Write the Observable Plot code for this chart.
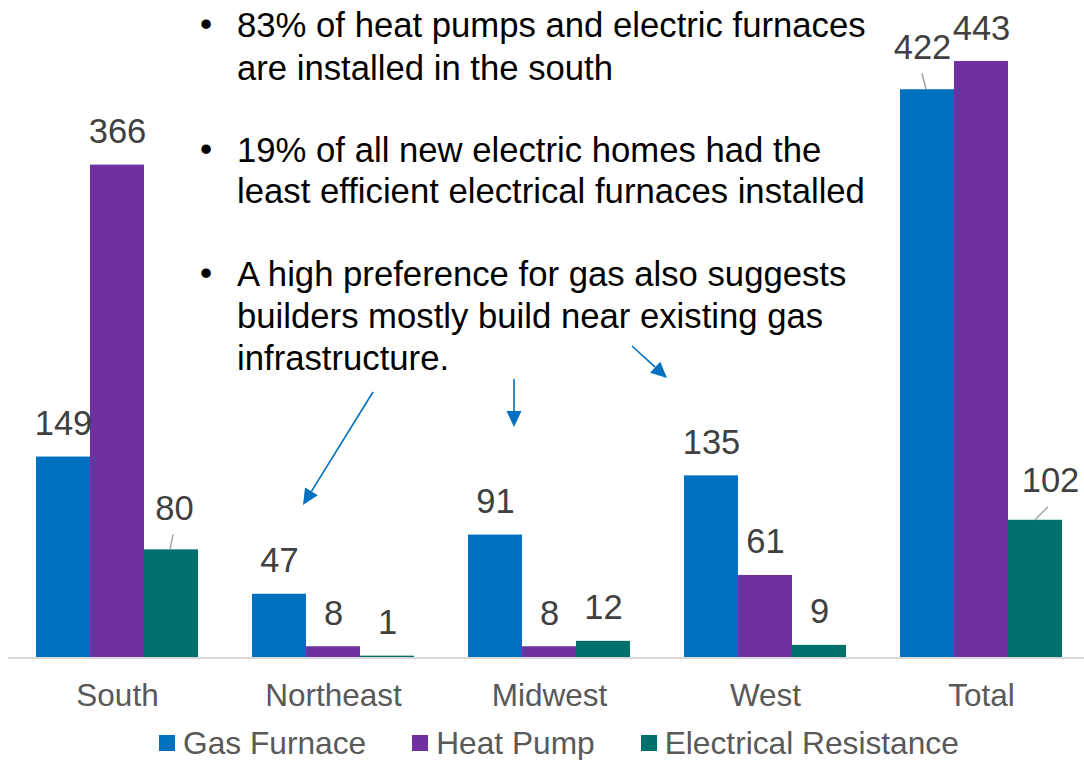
<!DOCTYPE html>
<html><head><meta charset="utf-8">
<script src="https://cdn.jsdelivr.net/npm/d3@7"></script>
<script src="https://cdn.jsdelivr.net/npm/@observablehq/plot@0.6"></script>
<style>
body{margin:0;background:#fff;font-family:"Liberation Sans",Arial,sans-serif;overflow:hidden;}
#wrap{position:relative;width:1084px;}
#legend{display:flex;align-items:center;height:36px;padding-left:159px;font-size:31.7px;line-height:0.9;color:#595959;}
.item{display:flex;align-items:center;margin-right:46px;white-space:nowrap}
.sw{width:16px;height:16px;margin-right:8px;flex:none}
</style></head><body>
<div id="wrap"></div>
<div id="legend"></div>
<script>
const regions = ["South", "Northeast", "Midwest", "West", "Total"];
const seriesNames = ["Gas Furnace", "Heat Pump", "Electrical Resistance"];
const gasFurnace = [149, 47, 91, 135, 422];
const heatPump = [366, 8, 8, 61, 443];
const electricalResistance = [80, 1, 12, 9, 102];
const seriesColors = ["#0070C0", "#7030A0", "#00706E"];
const notes = [
  ["83% of heat pumps and electric furnaces", "are installed in the south"],
  ["19% of all new electric homes had the", "least efficient electrical furnaces installed"],
  ["A high preference for gas also suggests", "builders mostly build near existing gas", "infrastructure."]
];

const seriesValues = [gasFurnace, heatPump, electricalResistance];
const table = regions.flatMap((r, i) => seriesNames.map((s, j) => ({region: r, series: s, value: seriesValues[j][i]})));
const isMoved = d => (d.region === "Total" && d.series !== "Heat Pump") || (d.region === "South" && d.series === "Electrical Resistance");
const pick = (r, s) => table.filter(d => d.region === r && d.series === s);
const labelOpts = {fx: "region", x: "series", y: "value", text: d => String(d.value), fontSize: 34.5, fill: "#404040"};

const chart = Plot.plot({
  width: 1084, height: 725,
  marginTop: 61, marginBottom: 68, marginLeft: 8, marginRight: -5,
  style: {fontFamily: "'Liberation Sans', Arial, sans-serif", fontSize: "31.5px", color: "#595959", background: "white", overflow: "visible"},
  fx: {domain: regions, paddingInner: 0.25, paddingOuter: 0.125, axis: "bottom", label: null, tickSize: 0, tickPadding: 26},
  x: {domain: seriesNames, axis: null, padding: 0},
  y: {domain: [0, 443], axis: null},
  color: {domain: seriesNames, range: seriesColors},
  marks: [
    Plot.barY(table, {fx: "region", x: "series", y: "value", fill: "series"}),
    Plot.text(table.filter(d => !isMoved(d)), {...labelOpts, dy: -33}),
    Plot.text(pick("Total", "Gas Furnace"), {...labelOpts, dx: -5, dy: -42}),
    Plot.text(pick("South", "Electrical Resistance"), {...labelOpts, dx: 3, dy: -41}),
    Plot.text(pick("Total", "Electrical Resistance"), {...labelOpts, dx: 15, dy: -39})
  ]
});
document.getElementById("wrap").appendChild(chart);

// overlay: axis line, leader lines, annotation text and arrows
const svg = d3.select(chart);
const yS = chart.scale("y"), fxS = chart.scale("fx"), xS = chart.scale("x");
const base = yS.apply(0);
svg.append("line").attr("x1", 8).attr("x2", 1084).attr("y1", base + 1).attr("y2", base + 1)
  .attr("stroke", "#d9d9d9").attr("stroke-width", 2);

const xr0 = Math.min(...xS.range);
function barTop(r, s) {
  const v = pick(r, s)[0].value;
  const cx = fxS.apply(r) + (xS.apply(s) - xr0) + xS.bandwidth / 2;
  return [cx, yS.apply(v)];
}
const leaders = [
  [barTop("Total", "Gas Furnace"), -1, -5, -16],
  [barTop("South", "Electrical Resistance"), -1, 2, -15],
  [barTop("Total", "Electrical Resistance"), 0, 13, -13]
];
for (const [[cx, cy], ox, ex, ey] of leaders) {
  svg.append("line").attr("x1", cx + ox).attr("y1", cy).attr("x2", cx + ex).attr("y2", cy + ey)
    .attr("stroke", "#a6a6a6").attr("stroke-width", 1.5);
}

const ann = svg.append("g").attr("font-size", 34.7).attr("fill", "#000").attr("text-anchor", "start")
  .attr("font-family", "'Liberation Sans', Arial, sans-serif");
const baselines = [[37, 80], [162, 203], [286, 328, 370]];
notes.forEach((lines, i) => {
  ann.append("text").attr("x", 200).attr("y", baselines[i][0] - 1).text("•");
  lines.forEach((t, k) => ann.append("text").attr("x", 237).attr("y", baselines[i][k]).text(t));
});
const arrows = [[[373, 392], [303, 505]], [[514, 379], [514, 427]], [[632, 346], [667, 378]]];
for (const [[x1, y1], [x2, y2]] of arrows) {
  const a = Math.atan2(y2 - y1, x2 - x1), L = 16, W = 7.5;
  const bx = x2 - L * Math.cos(a), by = y2 - L * Math.sin(a);
  svg.append("line").attr("x1", x1).attr("y1", y1).attr("x2", bx).attr("y2", by)
    .attr("stroke", "#0070C0").attr("stroke-width", 1.6);
  const px = -Math.sin(a) * W, py = Math.cos(a) * W;
  svg.append("path").attr("d", `M${x2},${y2}L${bx + px},${by + py}L${bx - px},${by - py}Z`).attr("fill", "#0070C0");
}

const legend = document.getElementById("legend");
seriesNames.forEach((s, i) => {
  const it = document.createElement("div"); it.className = "item";
  const sw = document.createElement("div"); sw.className = "sw"; sw.style.background = seriesColors[i];
  const tx = document.createElement("span"); tx.textContent = s;
  it.appendChild(sw); it.appendChild(tx); legend.appendChild(it);
});
</script>
</body></html>
